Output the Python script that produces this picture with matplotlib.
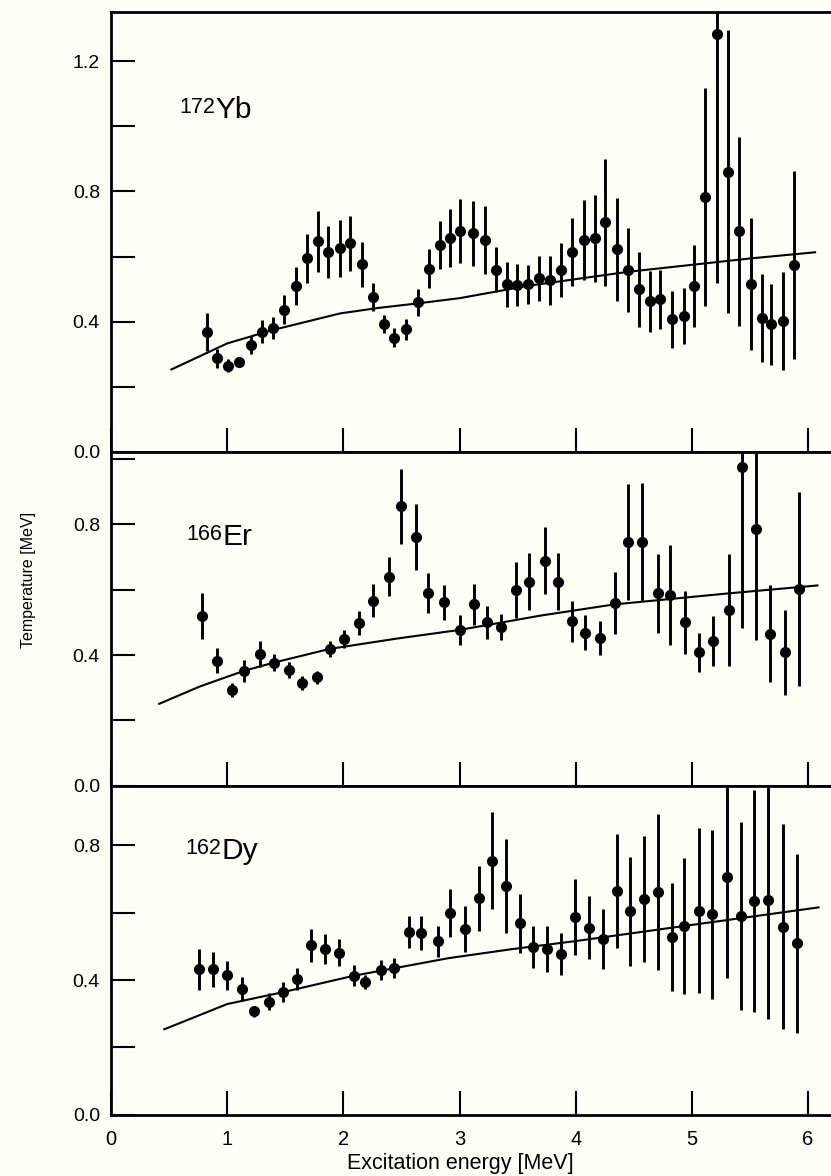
import numpy as np
import matplotlib
matplotlib.use('Agg')
import matplotlib.pyplot as plt
from matplotlib import font_manager
from matplotlib.ticker import MultipleLocator

plt.rcParams['font.family'] = ['Liberation Sans', 'DejaVu Sans']

# 172Yb
yb_e = [0.823, 0.914, 1.006, 1.103, 1.201, 1.301, 1.390, 1.487, 1.588, 1.691,
        1.783, 1.868, 1.969, 2.055, 2.161, 2.256, 2.348, 2.436, 2.537, 2.643,
        2.734, 2.835, 2.921, 3.007, 3.115, 3.215, 3.316, 3.408, 3.494, 3.588,
        3.683, 3.775, 3.875, 3.970, 4.067, 4.162, 4.248, 4.353, 4.454, 4.548,
        4.635, 4.729, 4.830, 4.930, 5.021, 5.113, 5.216, 5.314, 5.409, 5.509,
        5.600, 5.681, 5.781, 5.881]
yb_t = [0.369, 0.287, 0.264, 0.275, 0.328, 0.369, 0.381, 0.437, 0.510, 0.594,
        0.647, 0.614, 0.625, 0.640, 0.576, 0.476, 0.392, 0.351, 0.376, 0.459,
        0.563, 0.635, 0.657, 0.678, 0.671, 0.650, 0.560, 0.515, 0.512, 0.515,
        0.533, 0.527, 0.558, 0.613, 0.652, 0.656, 0.705, 0.622, 0.560, 0.499,
        0.463, 0.469, 0.407, 0.418, 0.510, 0.782, 1.285, 0.860, 0.678, 0.515,
        0.410, 0.392, 0.402, 0.574]
yb_err = [0.058, 0.030, 0.020, 0.015, 0.027, 0.036, 0.033, 0.044, 0.059, 0.074,
          0.094, 0.080, 0.087, 0.084, 0.070, 0.042, 0.028, 0.028, 0.032, 0.041,
          0.061, 0.074, 0.090, 0.099, 0.100, 0.104, 0.070, 0.069, 0.064, 0.060,
          0.070, 0.076, 0.082, 0.105, 0.123, 0.133, 0.195, 0.159, 0.129, 0.116,
          0.094, 0.091, 0.088, 0.086, 0.126, 0.335, 0.766, 0.435, 0.290, 0.203,
          0.135, 0.125, 0.150, 0.290]
yb_curve_e = [0.52, 0.91, 1.0, 1.39, 1.97, 2.30, 2.64, 3.0, 3.59, 4.45, 5.5, 6.06]
yb_curve_t = [0.253, 0.318, 0.333, 0.374, 0.425, 0.442, 0.456, 0.472, 0.510, 0.553, 0.594, 0.613]

# 166Er
er_e = [0.780, 0.914, 1.043, 1.146, 1.281, 1.402, 1.530, 1.645, 1.777, 1.883,
        2.003, 2.135, 2.256, 2.391, 2.500, 2.628, 2.728, 2.866, 3.001, 3.121,
        3.236, 3.359, 3.482, 3.597, 3.732, 3.846, 3.970, 4.076, 4.205, 4.334,
        4.454, 4.572, 4.706, 4.812, 4.938, 5.064, 5.179, 5.316, 5.431, 5.551,
        5.672, 5.804, 5.918]
er_t = [0.520, 0.383, 0.294, 0.352, 0.404, 0.377, 0.355, 0.314, 0.332, 0.419,
        0.449, 0.497, 0.567, 0.640, 0.855, 0.762, 0.589, 0.561, 0.477, 0.555,
        0.500, 0.485, 0.599, 0.625, 0.689, 0.625, 0.503, 0.469, 0.452, 0.559,
        0.747, 0.747, 0.589, 0.584, 0.500, 0.408, 0.443, 0.538, 0.977, 0.785,
        0.465, 0.408, 0.601]
er_err = [0.071, 0.039, 0.022, 0.033, 0.040, 0.026, 0.024, 0.022, 0.020, 0.025,
          0.028, 0.037, 0.049, 0.059, 0.115, 0.101, 0.061, 0.054, 0.047, 0.064,
          0.050, 0.040, 0.087, 0.088, 0.102, 0.088, 0.064, 0.053, 0.052, 0.096,
          0.177, 0.180, 0.120, 0.152, 0.096, 0.059, 0.076, 0.172, 0.495, 0.339,
          0.148, 0.130, 0.297]
er_curve_e = [0.415, 0.765, 1.146, 1.402, 1.883, 2.45, 3.0, 3.7, 4.33, 5.32, 6.08]
er_curve_t = [0.251, 0.304, 0.352, 0.377, 0.419, 0.450, 0.477, 0.521, 0.555, 0.589, 0.613]

# 162Dy
dy_e = [0.759, 0.880, 0.995, 1.124, 1.233, 1.359, 1.476, 1.605, 1.717, 1.846,
        1.963, 2.089, 2.190, 2.327, 2.433, 2.565, 2.672, 2.814, 2.915, 3.044,
        3.166, 3.279, 3.403, 3.523, 3.631, 3.752, 3.875, 3.990, 4.110, 4.233,
        4.357, 4.471, 4.591, 4.706, 4.830, 4.935, 5.058, 5.174, 5.302, 5.423,
        5.532, 5.652, 5.787, 5.904]
dy_t = [0.432, 0.433, 0.414, 0.373, 0.307, 0.336, 0.364, 0.403, 0.503, 0.492,
        0.482, 0.413, 0.394, 0.430, 0.435, 0.542, 0.539, 0.516, 0.600, 0.552,
        0.643, 0.755, 0.680, 0.569, 0.499, 0.493, 0.478, 0.587, 0.556, 0.522,
        0.665, 0.605, 0.641, 0.661, 0.529, 0.562, 0.606, 0.595, 0.705, 0.591,
        0.636, 0.638, 0.559, 0.509]
dy_err = [0.061, 0.052, 0.043, 0.036, 0.016, 0.026, 0.030, 0.032, 0.048, 0.044,
          0.041, 0.031, 0.020, 0.030, 0.030, 0.047, 0.050, 0.046, 0.072, 0.067,
          0.097, 0.145, 0.139, 0.088, 0.063, 0.069, 0.062, 0.112, 0.094, 0.088,
          0.169, 0.162, 0.186, 0.232, 0.160, 0.202, 0.245, 0.250, 0.300, 0.280,
          0.330, 0.354, 0.305, 0.267]
dy_curve_e = [0.458, 1.0, 1.476, 2.089, 2.433, 2.9, 3.45, 4.0, 5.0, 6.09]
dy_curve_t = [0.254, 0.329, 0.364, 0.413, 0.435, 0.465, 0.492, 0.516, 0.564, 0.616]

panels = [
    ('172', 'Yb', yb_e, yb_t, yb_err, yb_curve_e, yb_curve_t, 1.352, 0.90, 1.026),
    ('166', 'Er', er_e, er_t, er_err, er_curve_e, er_curve_t, 1.022, 0.96, 0.737),
    ('162', 'Dy', dy_e, dy_t, dy_err, dy_curve_e, dy_curve_t, 0.977, 0.95, 0.76),
]

bg = '#fffff7'
fig = plt.figure(figsize=(8.31, 11.76), dpi=100, facecolor=bg)
gs = fig.add_gridspec(3, 1, height_ratios=[440, 334, 329], hspace=0,
                      left=0.1336, right=0.999, top=0.990, bottom=0.052)

for i, (mass, elem, e, t, err, ce, ct, ytop, lx, ly) in enumerate(panels):
    ax = fig.add_subplot(gs[i])
    ax.set_facecolor(bg)
    ax.errorbar(e, t, yerr=err, fmt='o', color='black', ms=7,
                elinewidth=2.1, capsize=0)
    ax.plot(ce, ct, color='black', lw=1.5)
    ax.set_xlim(0, 6.19)
    ax.set_ylim(0, ytop)
    ax.spines['right'].set_visible(False)
    for s in ['left', 'top', 'bottom']:
        ax.spines[s].set_linewidth(2.0)
    ax.yaxis.set_major_locator(MultipleLocator(0.4))
    ax.yaxis.set_minor_locator(MultipleLocator(0.2))
    ax.set_xticks([0, 1, 2, 3, 4, 5, 6])
    ax.tick_params(axis='both', which='both', direction='in', length=17, width=1.5,
                   right=False, top=False)
    ax.tick_params(axis='y', labelsize=14, pad=8)
    ax.tick_params(axis='x', labelsize=14.5, pad=11)
    ax.yaxis.set_major_formatter(plt.FuncFormatter(lambda v, p: '%.1f' % v))
    if i < 2:
        ax.tick_params(axis='x', labelbottom=False)
    ax.text(lx, ly + 0.014, mass, fontsize=15.5, ha='right', va='baseline')
    ax.text(lx, ly, elem, fontsize=21.5, ha='left', va='baseline')

fig.text(460 / 831, 1 - 1163 / 1176, 'Excitation energy [MeV]', fontsize=15.5,
         ha='center', va='center')

names = {f.name for f in font_manager.fontManager.ttflist}
narrow = 'Liberation Sans Narrow' if 'Liberation Sans Narrow' in names else 'Liberation Sans'
fig.text(29 / 831, 1 - 580 / 1176, 'Temperature [MeV]', fontsize=11.5,
         family=[narrow, 'DejaVu Sans'], rotation=90, ha='center', va='center')

plt.savefig('out.png', dpi=100, facecolor=bg)
